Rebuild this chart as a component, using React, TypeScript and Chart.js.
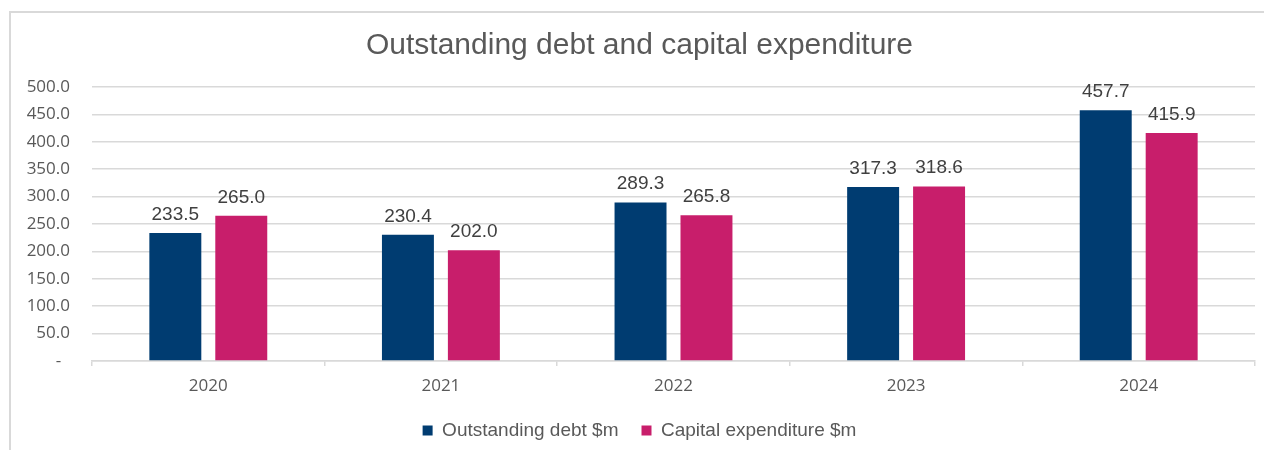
import React, { useEffect, useRef } from "react";
import { Chart, registerables } from "chart.js";

Chart.register(...registerables);

const TITLE = "Outstanding debt and capital expenditure";
const categories = ["2020", "2021", "2022", "2023", "2024"];
const debtLabel = "Outstanding debt $m";
const capexLabel = "Capital expenditure $m";
const debtValues = [233.5, 230.4, 289.3, 317.3, 457.7];
const capexValues = [265.0, 202.0, 265.8, 318.6, 415.9];
const Y_MIN = 0;
const Y_MAX = 500;
const Y_STEP = 50;

const NAVY = "#003C71";
const PINK = "#C81E6B";
const GRID = "#D9D9D9";
const TEXT = "#595959";

const borderPlugin = {
  id: "outerBorder",
  beforeDraw(chart: any) {
    const ctx = chart.ctx;
    ctx.save();
    ctx.strokeStyle = GRID;
    ctx.lineWidth = 2;
    ctx.beginPath();
    ctx.moveTo(10, 450);
    ctx.lineTo(10, 12);
    ctx.lineTo(1264, 12);
    ctx.stroke();
    ctx.restore();
  },
};

const dataLabelPlugin = {
  id: "dataLabels",
  afterDatasetsDraw(chart: any) {
    const ctx = chart.ctx;
    ctx.save();
    ctx.font = '19px "Liberation Sans", Arial, sans-serif';
    ctx.fillStyle = "#404040";
    ctx.textAlign = "center";
    ctx.textBaseline = "alphabetic";
    chart.data.datasets.forEach((ds: any, i: number) => {
      const meta = chart.getDatasetMeta(i);
      meta.data.forEach((bar: any, j: number) => {
        const v = ds.data[j] as number;
        ctx.fillText(v.toFixed(1), bar.x, bar.y - 13);
      });
    });
    ctx.restore();
  },
};

export default function App() {
  const canvasRef = useRef<HTMLCanvasElement | null>(null);

  useEffect(() => {
    if (!canvasRef.current) return;
    const chart = new Chart(canvasRef.current, {
      type: "bar",
      data: {
        labels: categories,
        datasets: [
          {
            label: debtLabel,
            data: debtValues,
            backgroundColor: NAVY,
            borderWidth: 0,
            categoryPercentage: 0.567,
            barPercentage: 0.788,
          },
          {
            label: capexLabel,
            data: capexValues,
            backgroundColor: PINK,
            borderWidth: 0,
            categoryPercentage: 0.567,
            barPercentage: 0.788,
          },
        ],
      },
      options: {
        responsive: false,
        animation: false,
        layout: { padding: { left: 24, right: 9, top: 0, bottom: 0 } },
        plugins: {
          title: {
            display: true,
            text: TITLE,
            color: TEXT,
            font: { family: '"Liberation Sans", Arial, sans-serif', size: 30, weight: "normal" },
            padding: { top: 28, bottom: 23 },
          },
          legend: {
            display: true,
            position: "bottom",
            labels: {
              boxWidth: 10,
              boxHeight: 10,
              padding: 23,
              color: TEXT,
              font: { family: '"Liberation Sans", Arial, sans-serif', size: 19 },
            },
          },
          tooltip: { enabled: false },
        },
        scales: {
          x: {
            grid: {
              display: true,
              drawOnChartArea: false,
              drawTicks: true,
              tickLength: 5,
              color: GRID,
              lineWidth: 1.5,
            },
            border: { display: true, color: GRID, width: 1.5 },
            ticks: {
              color: TEXT,
              padding: 10,
              font: { family: '"Open Sans", sans-serif', size: 17 },
            },
            afterFit: (scale: any) => {
              scale.height = 37;
            },
          },
          y: {
            min: Y_MIN,
            max: Y_MAX,
            grid: { color: GRID, lineWidth: 1.5, drawTicks: false },
            border: { display: false },
            ticks: {
              stepSize: Y_STEP,
              color: TEXT,
              padding: 22,
              font: { family: '"Open Sans", sans-serif', size: 17 },
              callback: (v: any) => (Number(v) === 0 ? "-  " : Number(v).toFixed(1)),
            },
            afterFit: (scale: any) => {
              scale.width = 68;
            },
          },
        },
      },
      plugins: [borderPlugin, dataLabelPlugin],
    });
    return () => chart.destroy();
  }, []);

  return (
    <div style={{ position: "absolute", left: 0, top: 0, width: 1264, height: 450, background: "#fff" }}>
      <canvas ref={canvasRef} width={1264} height={450} style={{ display: "block" }} />
    </div>
  );
}
